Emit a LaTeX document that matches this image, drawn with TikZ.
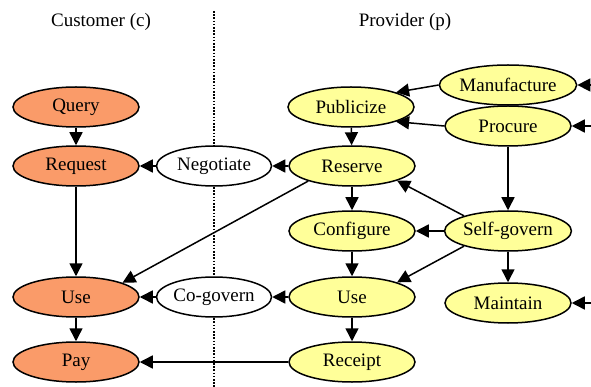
\documentclass[tikz,border=0pt]{standalone}
\usepackage{fontspec}
\setmainfont{Liberation Serif}
\usetikzlibrary{shapes.geometric,arrows.meta}
\definecolor{custfill}{RGB}{250,155,105}
\definecolor{provfill}{RGB}{255,255,153}
\tikzset{
  act/.style={ellipse,draw=black,line width=1.5pt,minimum width=126pt,minimum height=40pt,inner sep=0pt,
    font=\fontsize{19}{22}\selectfont},
  cust/.style={act,fill=custfill},
  prov/.style={act,fill=provfill},
  shared/.style={act,fill=white,minimum width=115pt},
  flow/.style={line width=1.5pt,-{Triangle[length=13pt,width=13pt]}},
  title/.style={font=\fontsize{19}{22}\selectfont}
}
\begin{document}
\begin{tikzpicture}[x=1pt,y=-1pt]
\useasboundingbox (0,0) rectangle (591,387);
% boundary between the two parties
\draw[line width=1.8pt,dash pattern=on 1.6pt off 1.6pt] (214,11) -- (214,387);
\node[title] (tc) at (101,22) {Customer (c)};
\node[title] (tp) at (405,22) {Provider (p)};
% customer side
\node[cust] (query) at (76,107) {Query};
\node[cust] (request) at (76,166) {Request};
\node[cust] (usec) at (76,297) {Use};
\node[cust] (pay) at (76,362) {Pay};
% shared activities
\node[shared] (neg) at (214,166) {Negotiate};
\node[shared] (cog) at (214,297) {Co-govern};
% provider side
\node[prov] (pub) at (351,107) {Publicize};
\node[prov] (res) at (352,166) {Reserve};
\node[prov] (conf) at (352,231) {Configure};
\node[prov] (usep) at (352,297) {Use};
\node[prov] (rec) at (352,362) {Receipt};
\node[prov] (man) at (508,85) {Manufacture};
\node[prov] (proc) at (508,126) {Procure};
\node[prov] (self) at (508,231) {Self-govern};
\node[prov] (maint) at (508,303) {Maintain};
% external inputs
\coordinate (inman) at (591,85);
\coordinate (inproc) at (591,126);
\coordinate (inmaint) at (591,303);
% customer flow
\draw[flow] (query) -- (request);
\draw[flow] (request) -- (usec);
\draw[flow] (usec) -- (pay);
\draw[flow] (neg) -- (request);
\draw[flow] (cog) -- (usec);
\draw[flow] (res) -- (neg);
\draw[flow] (usep) -- (cog);
\draw[flow] (res.199) -- (usec.17);
\draw[flow] (rec) -- (pay);
% provider flow
\draw[flow] (pub) -- (res);
\draw[flow] (res) -- (conf);
\draw[flow] (conf) -- (usep);
\draw[flow] (usep) -- (rec);
\draw[flow] (man.west) -- (pub.18);
\draw[flow] (proc.west) -- (pub.342);
\draw[flow] (proc) -- (self);
\draw[flow] (self.161) -- (res.342);
\draw[flow] (self) -- (conf);
\draw[flow] (self.199) -- (usep.18);
\draw[flow] (self) -- (maint);
\draw[flow] (inman) -- (man);
\draw[flow] (inproc) -- (proc);
\draw[flow] (inmaint) -- (maint);
\end{tikzpicture}
\end{document}
